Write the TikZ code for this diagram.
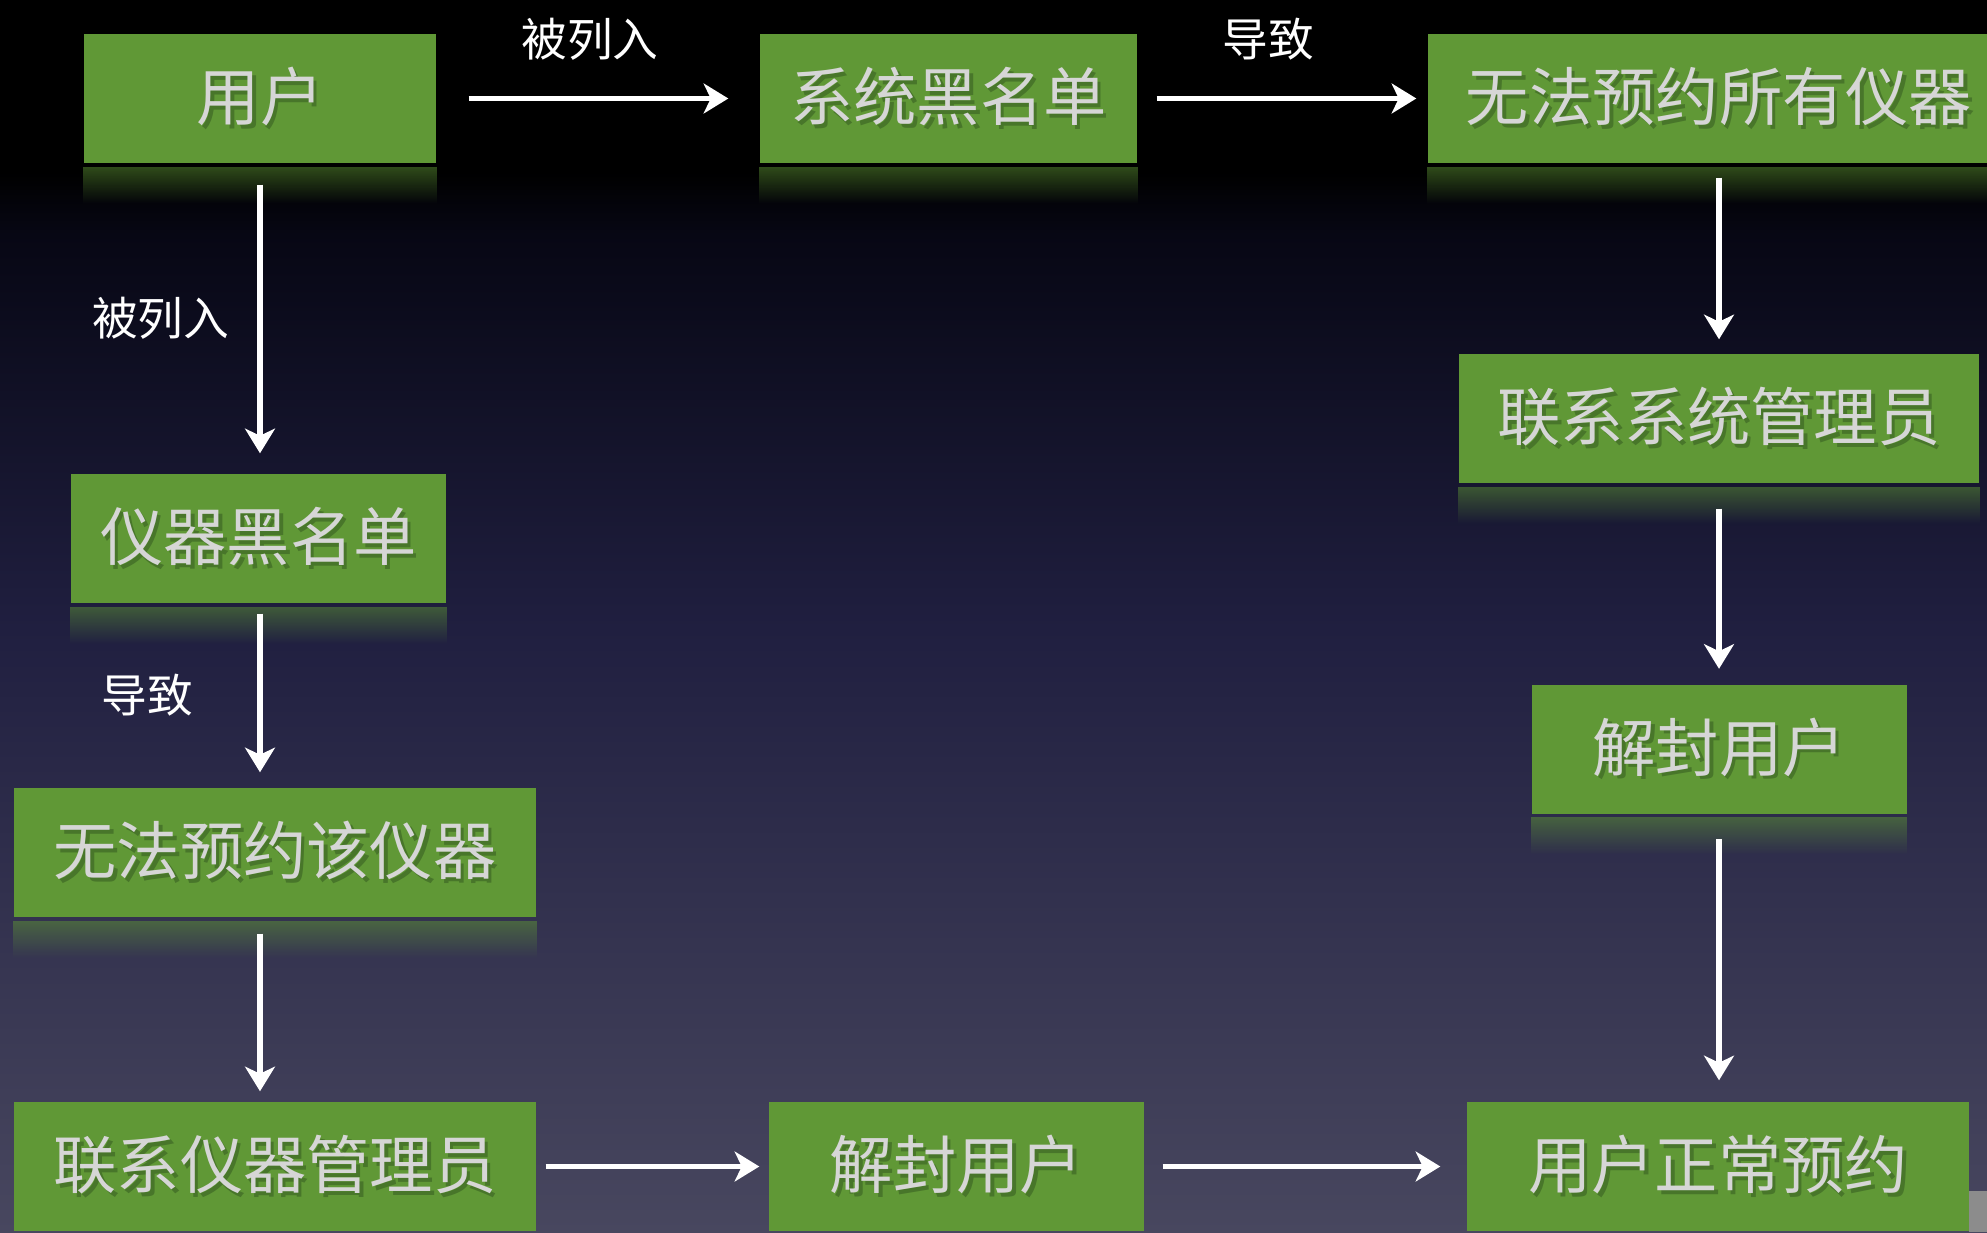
\documentclass[tikz,border=0pt]{standalone}
\usepackage{fontspec}
\setmainfont{Noto Sans CJK SC}
\usetikzlibrary{arrows.meta,fadings}
\definecolor{boxgreen}{RGB}{96,152,54}
\definecolor{boxtext}{RGB}{214,214,214}
\definecolor{boxshade}{RGB}{72,118,42}
\definecolor{bgdark}{RGB}{7,7,20}
\definecolor{bgmid}{RGB}{32,31,64}
\definecolor{bgbot}{RGB}{72,71,95}
\definecolor{cornergray}{RGB}{140,140,140}
\definecolor{cornergreen}{RGB}{100,157,57}
\pgfdeclareverticalshading{slidebg}{100bp}{color(0bp)=(bgbot); color(25bp)=(bgbot); color(49.5bp)=(bgmid); color(65.5bp)=(bgdark); color(68bp)=(black); color(100bp)=(black)}
\tikzfading[name=reflfade, top color=transparent!50, bottom color=transparent!100]
\newcommand{\shtext}[1]{\rlap{\hspace{1pt}\raisebox{-1pt}{\color{boxshade}#1}}#1}

\begin{document}
\begin{tikzpicture}[
	box/.style={fill=boxgreen, text=boxtext, minimum height=1.29cm, inner sep=0pt, font=\fontsize{18}{18}\selectfont},
	lbl/.style={text=white, inner sep=0pt, font=\fontsize{13}{13}\selectfont},
	arr/.style={draw=white, line width=1.6pt, -{Stealth[length=7pt, width=8.5pt, inset=2pt]}},
	refl/.style={fill=boxgreen, path fading=reflfade}
]
	\useasboundingbox (0,0) rectangle (19.87,12.32);
	\clip (0,0) rectangle (19.87,12.32);
	\shade[shading=slidebg] (0,0) rectangle (19.87,12.32);

	% corner of the screenshot
	\fill[cornergray] (19.69,0) rectangle (19.87,0.41);

	% boxes
	\node[box, minimum width=3.52cm] (user) at (2.60,11.335) {\shtext{用户}};
	\node[box, minimum width=3.77cm] (sysbl) at (9.485,11.335) {\shtext{系统黑名单}};
	\node[box, minimum width=5.82cm] (noall) at (17.19,11.335) {\shtext{无法预约所有仪器}};
	\node[box, minimum width=5.20cm] (contactsys) at (17.19,8.135) {\shtext{联系系统管理员}};
	\node[box, minimum width=3.75cm] (unlockr) at (17.19,4.83) {\shtext{解封用户}};
	\node[box, minimum width=5.02cm] (normal) at (17.18,0.655) {\shtext{用户正常预约}};
	\node[box, minimum width=3.75cm] (instbl) at (2.585,6.935) {\shtext{仪器黑名单}};
	\node[box, minimum width=5.22cm] (noinst) at (2.75,3.795) {\shtext{无法预约该仪器}};
	\node[box, minimum width=5.22cm] (contactinst) at (2.75,0.655) {\shtext{联系仪器管理员}};
	\node[box, minimum width=3.75cm] (unlockb) at (9.565,0.655) {\shtext{解封用户}};

	% reflections
	\fill[refl] ([yshift=-0.03cm]user.south west) rectangle ([yshift=-0.40cm]user.south east);
	\fill[refl] ([yshift=-0.03cm]sysbl.south west) rectangle ([yshift=-0.40cm]sysbl.south east);
	\fill[refl] ([yshift=-0.03cm]noall.south west) rectangle ([yshift=-0.40cm]noall.south east);
	\fill[refl] ([yshift=-0.03cm]contactsys.south west) rectangle ([yshift=-0.40cm]contactsys.south east);
	\fill[refl] ([yshift=-0.03cm]unlockr.south west) rectangle ([yshift=-0.40cm]unlockr.south east);
	\fill[refl] ([yshift=-0.03cm]instbl.south west) rectangle ([yshift=-0.40cm]instbl.south east);
	\fill[refl] ([yshift=-0.03cm]noinst.south west) rectangle ([yshift=-0.40cm]noinst.south east);

	% top row
	\draw[arr, shorten <=0.32cm, shorten >=0.31cm] (user.east) -- (sysbl.west) node[lbl, pos=0.475, above=0.35cm] {被列入};
	\draw[arr, shorten <=0.19cm, shorten >=0.11cm] (sysbl.east) -- (noall.west) node[lbl, pos=0.45, above=0.35cm] {导致};

	% left column
	\draw[arr, shorten <=0.21cm, shorten >=0.20cm] (user.south) -- (user.south |- instbl.north) node[lbl, midway, left=0.28cm] {被列入};
	\draw[arr, shorten <=0.10cm, shorten >=0.15cm] (instbl.south -| user) -- (noinst.north -| user) node[lbl, midway, left=0.64cm] {导致};
	\draw[arr, shorten <=0.16cm, shorten >=0.10cm] (noinst.south -| user) -- (contactinst.north -| user);

	% right column
	\draw[arr, shorten <=0.14cm, shorten >=0.14cm] (noall.south) -- (contactsys.north);
	\draw[arr, shorten <=0.25cm, shorten >=0.15cm] (contactsys.south) -- (unlockr.north);
	\draw[arr, shorten <=0.25cm, shorten >=0.21cm] (unlockr.south) -- (unlockr.south |- normal.north);

	% bottom row
	\draw[arr, shorten <=0.09cm, shorten >=0.09cm] (contactinst.east) -- (unlockb.west);
	\draw[arr, shorten <=0.18cm, shorten >=0.26cm] (unlockb.east) -- (normal.west);
\end{tikzpicture}
\end{document}
